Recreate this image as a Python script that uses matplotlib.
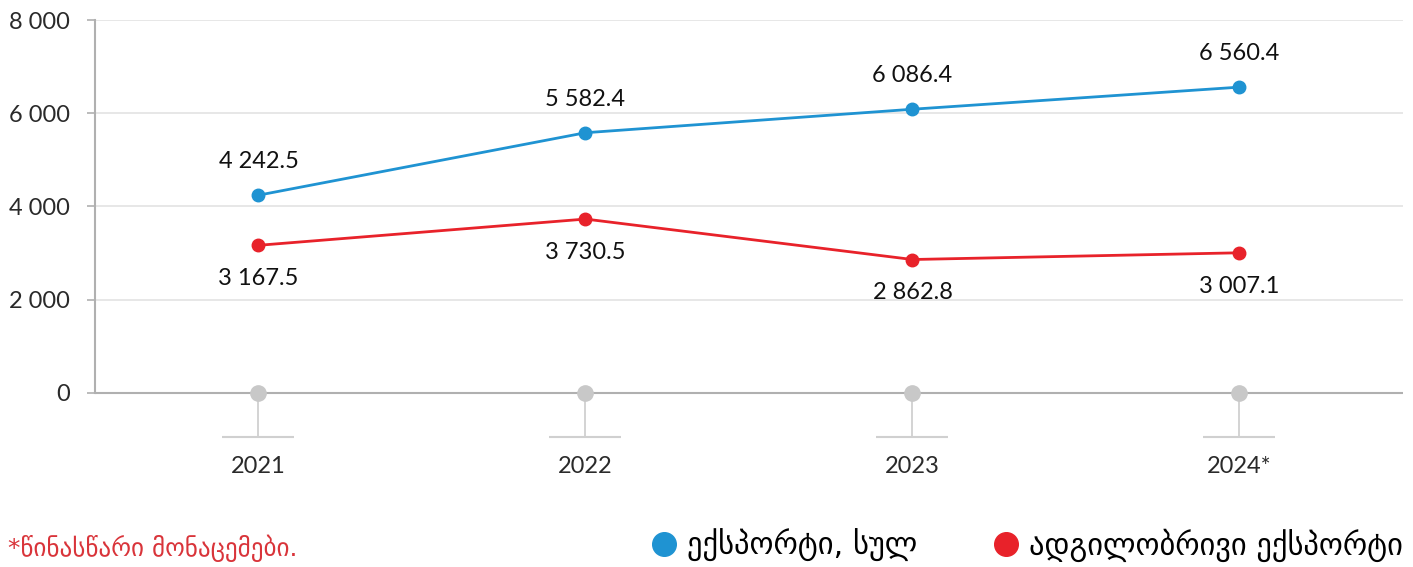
import matplotlib
matplotlib.use("Agg")
import matplotlib.pyplot as plt
from matplotlib.lines import Line2D

plt.rcParams["font.family"] = ["Lato", "DejaVu Sans"]

years = ["2021", "2022", "2023", "2024*"]
export_total = [4242.5, 5582.4, 6086.4, 6560.4]
export_domestic = [3167.5, 3730.5, 2862.8, 3007.1]
y_ticks = [0, 2000, 4000, 6000, 8000]

# Mtavruli capitals have no installed font, so the same words in Mkhedruli
legend_total = "ექსპორტი, სულ"
legend_domestic = "ადგილობრივი ექსპორტი"
footnote = "*წინასწარი მონაცემები."

BLUE = "#1f93d2"
RED = "#e8222a"
GRID = "#e3e3e3"
AXIS = "#b0b0b0"
STEM = "#d0d0d0"


def fmt(v, decimals=1):
    s = f"{v:,.{decimals}f}"
    return s.replace(",", " ")


fig = plt.figure(figsize=(14.13, 5.67), dpi=100)
ax = fig.add_axes([0.0672, 0.2293, 0.9257, 0.7354])

x = list(range(len(years)))
low = -944

ax.set_xlim(-0.5, 3.5)
ax.set_ylim(low, 8000)

for t in y_ticks[1:]:
    ax.axhline(t, color=GRID, lw=1.2, zorder=0)
ax.axhline(0, color=AXIS, lw=1.5, zorder=1)

# stems under each category
ax.vlines(x, low, 0, color=STEM, lw=1.3, zorder=0)
ax.hlines([low] * len(x), [i - 0.11 for i in x], [i + 0.11 for i in x],
          color=STEM, lw=1.5, zorder=0, clip_on=False)
ax.plot(x, [0] * len(x), "o", color="#c8c8c8", ms=11, zorder=3, clip_on=False)

ax.plot(x, export_total, "-o", color=BLUE, lw=2, ms=9, zorder=4)
ax.plot(x, export_domestic, "-o", color=RED, lw=2, ms=9, zorder=4)

for xi, v in zip(x, export_total):
    ax.annotate(fmt(v), (xi, v), xytext=(0, 24), textcoords="offset points",
                ha="center", va="center", fontsize=17, color="#111111")
for xi, v in zip(x, export_domestic):
    ax.annotate(fmt(v), (xi, v), xytext=(0, -24), textcoords="offset points",
                ha="center", va="center", fontsize=17, color="#111111")

for s in ["top", "right", "bottom"]:
    ax.spines[s].set_visible(False)
ax.spines["left"].set_bounds(0, 8000)
ax.spines["left"].set_color(AXIS)
ax.spines["left"].set_linewidth(1.5)

ax.set_yticks(y_ticks)
ax.set_yticklabels([fmt(t, 0) for t in y_ticks])
ax.tick_params(axis="y", length=6, width=1.2, color=AXIS, pad=12,
               labelsize=17, labelcolor="#2a2a2a")
ax.set_xticks(x)
ax.set_xticklabels(years)
ax.tick_params(axis="x", length=0, pad=14, labelsize=17, labelcolor="#2a2a2a")

fig.text(0.006, 0.033, footnote, color="#d9343a", fontsize=18,
         ha="left", va="center", family=["DejaVu Sans"])

handles = [
    Line2D([], [], ls="none", marker="o", color=BLUE, ms=17),
    Line2D([], [], ls="none", marker="o", color=RED, ms=17),
]
fig.legend(handles, [legend_total, legend_domestic], loc="lower right",
           bbox_to_anchor=(1.012, -0.04), ncol=2, frameon=False,
           handletextpad=0.25, columnspacing=2.4, handlelength=1.0,
           prop={"family": ["DejaVu Sans"], "size": 22})

fig.savefig("out.png", dpi=100)
